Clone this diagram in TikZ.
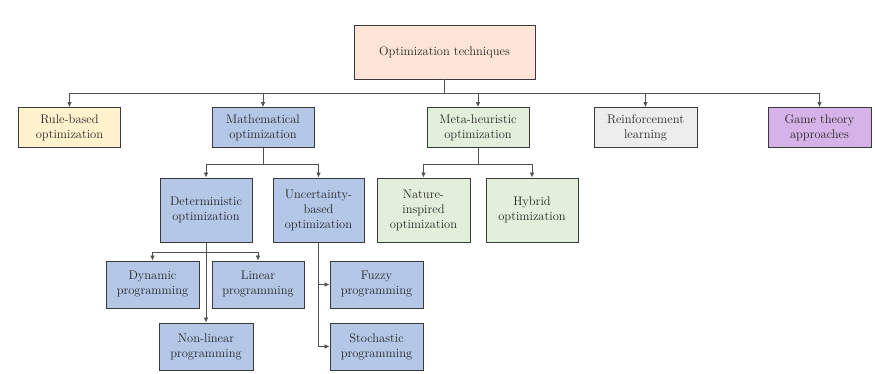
\documentclass[tikz,border=0pt]{standalone}
\usetikzlibrary{arrows.meta}
\definecolor{cpeach}{HTML}{FCE4D6}
\definecolor{cyellow}{HTML}{FFF2CC}
\definecolor{cblue}{HTML}{B4C7E7}
\definecolor{cgreen}{HTML}{E2EFDA}
\definecolor{cgray}{HTML}{EDEDED}
\definecolor{cpurple}{HTML}{D5B3E8}
\definecolor{cline}{HTML}{505050}
\definecolor{cborder}{HTML}{3A3A3A}
\begin{document}
\begin{tikzpicture}[x=1pt,y=-1pt,
  box/.style={draw=cborder,line width=0.9pt,align=center,inner sep=1pt,
    font=\fontsize{12.5}{15}\selectfont,text=black!85},
  conn/.style={draw=cline,line width=0.7pt},
  arr/.style={conn,-{Latex[length=5pt,width=4.5pt]}}]
\useasboundingbox (0,0) rectangle (875,374);
\node[box,fill=cpeach,minimum width=181pt,minimum height=54pt] (top) at (444.5,52) {Optimization techniques};
\node[box,fill=cyellow,minimum width=102pt,minimum height=40pt] (rule) at (69.5,127.5) {Rule-based\\optimization};
\node[box,fill=cblue,minimum width=102pt,minimum height=40pt] (math) at (263,127.5) {Mathematical\\optimization};
\node[box,fill=cgreen,minimum width=102pt,minimum height=40pt] (meta) at (478,127.5) {Meta-heuristic\\optimization};
\node[box,fill=cgray,minimum width=103pt,minimum height=40pt] (rl) at (645.5,127.5) {Reinforcement\\learning};
\node[box,fill=cpurple,minimum width=103pt,minimum height=40pt] (game) at (819.5,127.5) {Game theory\\approaches};
\node[box,fill=cblue,minimum width=92pt,minimum height=64pt] (det) at (206,210) {Deterministic\\optimization};
\node[box,fill=cblue,minimum width=91pt,minimum height=64pt] (unc) at (318.5,210) {Uncertainty-\\based\\optimization};
\node[box,fill=cgreen,minimum width=93pt,minimum height=64pt] (nat) at (423.5,210) {Nature-\\inspired\\optimization};
\node[box,fill=cgreen,minimum width=92pt,minimum height=64pt] (hyb) at (532,210) {Hybrid\\optimization};
\node[box,fill=cblue,minimum width=93pt,minimum height=47pt] (dyn) at (152.5,284.5) {Dynamic\\programming};
\node[box,fill=cblue,minimum width=92pt,minimum height=47pt] (lin) at (258,284.5) {Linear\\programming};
\node[box,fill=cblue,minimum width=94pt,minimum height=47pt] (nonlin) at (206,346.5) {Non-linear\\programming};
\node[box,fill=cblue,minimum width=93pt,minimum height=47pt] (fuzzy) at (376.5,284.5) {Fuzzy\\programming};
\node[box,fill=cblue,minimum width=93pt,minimum height=47pt] (stoch) at (376.5,346.5) {Stochastic\\programming};
\foreach \t in {rule,math,meta,rl,game}
  \draw[arr] (top.south) -- ++(0,14) -| (\t.north);
\foreach \t in {det,unc}
  \draw[arr] (math.south) -- ++(0,16) -| (\t.north);
\foreach \t in {nat,hyb}
  \draw[arr] (meta.south) -- ++(0,16) -| (\t.north);
\foreach \t in {dyn,lin}
  \draw[arr] (det.south) -- ++(0,10) -| (\t.north);
\draw[arr] (det.south) -- (nonlin.north);
\foreach \t in {fuzzy,stoch}
  \draw[arr] (unc.south) |- (\t.west);
\end{tikzpicture}
\end{document}
